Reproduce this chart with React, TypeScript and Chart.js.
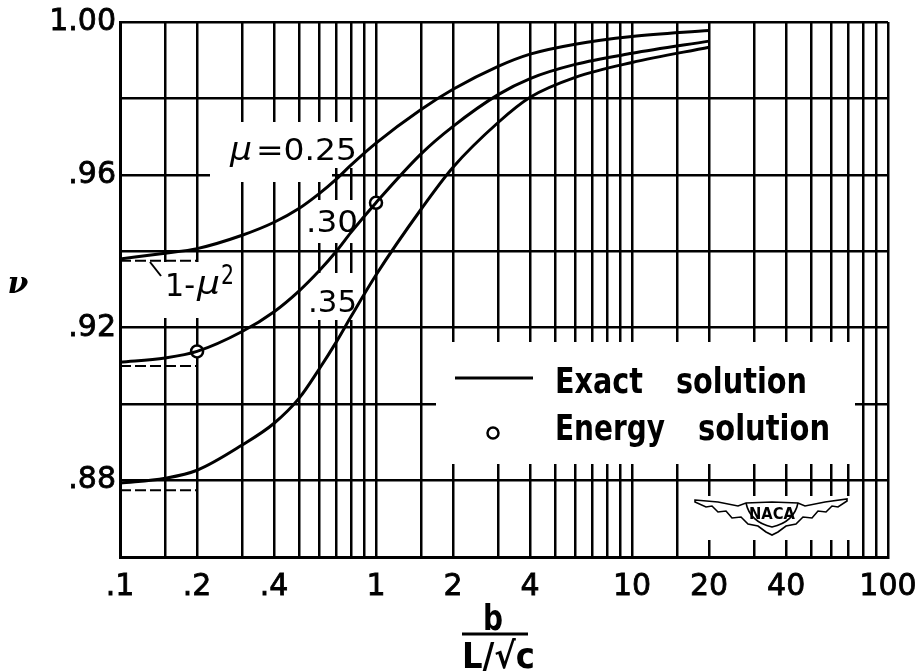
import React, { useEffect, useRef } from 'react';
import { Chart, registerables } from 'chart.js';

Chart.register(...registerables);

const W = 920;
const H = 671;

// b / (L/sqrt c) sample positions along the curves
const X_VALUES = [0.1, 0.15, 0.2, 0.3, 0.4, 0.5, 0.6, 0.7, 0.8, 1, 1.5, 2, 3, 4, 6, 10, 20];
// nu for mu = 0.25, 0.30, 0.35 (exact solution)
const NU_MU_025 = [0.938, 0.9395, 0.9407, 0.9442, 0.9476, 0.9512, 0.9551, 0.9589, 0.9626, 0.9683, 0.9771, 0.9824, 0.9884, 0.9916, 0.9942, 0.9962, 0.9978];
const NU_MU_030 = [0.911, 0.9121, 0.9138, 0.919, 0.9242, 0.9296, 0.9349, 0.94, 0.945, 0.9527, 0.9655, 0.9727, 0.981, 0.9852, 0.9889, 0.9918, 0.995];
const NU_MU_035 = [0.8793, 0.8806, 0.8827, 0.8893, 0.895, 0.9015, 0.9092, 0.9163, 0.923, 0.9338, 0.951, 0.962, 0.9737, 0.9803, 0.9855, 0.9894, 0.9934];

// energy solution points
const ENERGY_X = [0.2, 1];
const ENERGY_NU = [0.9138, 0.9527];

// 1 - mu^2 asymptote markers
const ASYMPTOTE_X = [0.1, 0.2];
const ASYMPTOTE_NU = [0.9375, 0.91, 0.8775];

// axes
const X_MIN = 0.1;
const X_MAX = 100;
const Y_MIN = 0.86;
const Y_MAX = 1.0;
const Y_STEP = 0.02;
const X_TICK_VALUES = [0.1, 0.2, 0.4, 1, 2, 4, 10, 20, 40, 100];
const X_TICK_LABELS = ['.1', '.2', '.4', '1', '2', '4', '10', '20', '40', '100'];
const Y_TICK_VALUES = [0.88, 0.92, 0.96, 1.0];
const Y_TICK_LABELS = ['.88', '.92', '.96', '1.00'];
const GRID_MANTISSAS = [1, 1.5, 2, 3, 4, 5, 6, 7, 8, 9];
const GRID_DECADES = [0.1, 1, 10];

const SANS = "'DejaVu Sans', 'Liberation Sans', sans-serif";
const SERIF = "'DejaVu Serif', 'Liberation Serif', serif";

function fitText(ctx: CanvasRenderingContext2D, text: string, x: number, y: number, width: number, font: string) {
  ctx.save();
  ctx.font = font;
  ctx.textAlign = 'left';
  ctx.textBaseline = 'alphabetic';
  const w = ctx.measureText(text).width;
  ctx.translate(x, y);
  ctx.scale(width / w, 1);
  ctx.fillText(text, 0, 0);
  ctx.restore();
}

const maskPlugin = {
  id: 'maskPlugin',
  beforeDatasetsDraw(chart: any) {
    const ctx = chart.ctx as CanvasRenderingContext2D;
    const rects = [
      [436, 342, 419, 122],
      [695, 496, 160, 44],
      [210, 122, 122, 60],
      [332, 122, 25, 46],
      [310, 200, 48, 43],
      [310, 273, 48, 47],
      [158, 262, 80, 56],
    ];
    ctx.save();
    ctx.fillStyle = '#ffffff';
    rects.forEach(([x, y, w, h]) => ctx.fillRect(x, y, w, h));
    ctx.restore();
  },
};

const annotatePlugin = {
  id: 'annotatePlugin',
  afterDraw(chart: any) {
    const ctx = chart.ctx as CanvasRenderingContext2D;
    ctx.save();
    ctx.fillStyle = '#000';
    ctx.strokeStyle = '#000';

    // curve labels
    fitText(ctx, 'μ', 230, 160, 22, `italic 31px ${SANS}`);
    fitText(ctx, '=0.25', 256, 160, 101, `31px ${SANS}`);
    fitText(ctx, '.30', 306, 232, 52, `31px ${SANS}`);
    fitText(ctx, '.35', 308, 312, 49, `31px ${SANS}`);
    fitText(ctx, '1-', 165, 296, 30, `32px ${SANS}`);
    fitText(ctx, 'μ', 197, 294, 23, `italic 32px ${SANS}`);
    fitText(ctx, '2', 221, 284, 13, `26px ${SANS}`);
    ctx.lineWidth = 2;
    ctx.beginPath();
    ctx.moveTo(150, 262);
    ctx.lineTo(161, 276);
    ctx.stroke();

    // y axis title
    ctx.font = `italic bold 30px ${SERIF}`;
    ctx.textAlign = 'center';
    ctx.textBaseline = 'alphabetic';
    ctx.fillText('ν', 18, 293);

    // x axis title
    fitText(ctx, 'b', 483, 630, 20, `bold 36px ${SANS}`);
    ctx.lineWidth = 3;
    ctx.beginPath();
    ctx.moveTo(462, 634);
    ctx.lineTo(528, 634);
    ctx.stroke();
    fitText(ctx, 'L/√c', 462, 668, 73, `bold 36px ${SANS}`);

    // legend
    ctx.lineWidth = 3;
    ctx.beginPath();
    ctx.moveTo(455, 378);
    ctx.lineTo(533, 378);
    ctx.stroke();
    ctx.beginPath();
    ctx.arc(493, 433, 5.5, 0, Math.PI * 2);
    ctx.fillStyle = '#fff';
    ctx.fill();
    ctx.lineWidth = 2.5;
    ctx.stroke();
    ctx.fillStyle = '#000';
    fitText(ctx, 'Exact', 555, 393, 88, `bold 35px ${SANS}`);
    fitText(ctx, 'solution', 676, 393, 131, `bold 35px ${SANS}`);
    fitText(ctx, 'Energy', 555, 440, 110, `bold 35px ${SANS}`);
    fitText(ctx, 'solution', 698, 440, 132, `bold 35px ${SANS}`);

    // NACA wings logo
    ctx.lineWidth = 1.6;
    ctx.beginPath();
    const top = [[695, 500], [718, 502], [738, 506], [746, 503], [772, 502], [798, 503], [805, 506], [825, 502], [847, 499]];
    const bottom = [[847, 501], [838, 507], [832, 506], [826, 512], [818, 511], [812, 518], [803, 517], [796, 524], [786, 526], [778, 532], [772, 535], [766, 532], [758, 526], [748, 524], [741, 517], [732, 518], [726, 511], [718, 512], [712, 506], [706, 507], [695, 502]];
    top.forEach(([x, y], i) => (i === 0 ? ctx.moveTo(x, y) : ctx.lineTo(x, y)));
    bottom.forEach(([x, y]) => ctx.lineTo(x, y));
    ctx.closePath();
    ctx.stroke();
    ctx.beginPath();
    ctx.moveTo(746, 503);
    ctx.quadraticCurveTo(750, 522, 772, 527);
    ctx.quadraticCurveTo(794, 522, 798, 503);
    ctx.stroke();
    fitText(ctx, 'NACA', 749, 519, 46, `bold 15px ${SANS}`);

    ctx.restore();
  },
};

function pts(xs: number[], ys: number[]) {
  return xs.map((x, i) => ({ x, y: ys[i] }));
}

export default function App() {
  const canvasRef = useRef<HTMLCanvasElement | null>(null);

  useEffect(() => {
    const canvas = canvasRef.current;
    if (!canvas) return;
    const curve = (data: number[]) => ({
      data: pts(X_VALUES, data),
      borderColor: '#000',
      borderWidth: 3,
      pointRadius: 0,
      cubicInterpolationMode: 'monotone' as const,
      fill: false,
    });
    const asym = (v: number) => ({
      data: pts(ASYMPTOTE_X, [v, v]),
      borderColor: '#000',
      borderWidth: 2,
      borderDash: [11, 4],
      pointRadius: 0,
      fill: false,
    });
    const chart = new Chart(canvas, {
      type: 'line',
      data: {
        datasets: [
          curve(NU_MU_025),
          curve(NU_MU_030),
          curve(NU_MU_035),
          ...ASYMPTOTE_NU.map(asym),
          {
            data: pts(ENERGY_X, ENERGY_NU),
            showLine: false,
            pointRadius: 6,
            pointBackgroundColor: '#fff',
            pointBorderColor: '#000',
            pointBorderWidth: 2.5,
            borderColor: '#000',
          } as any,
        ],
      },
      options: {
        responsive: false,
        animation: false,
        devicePixelRatio: 1,
        layout: { padding: { top: 22, right: 32, left: 0, bottom: 0 } },
        plugins: { legend: { display: false }, tooltip: { enabled: false }, title: { display: false } },
        scales: {
          x: {
            type: 'logarithmic',
            min: X_MIN,
            max: X_MAX,
            afterBuildTicks: (scale: any) => {
              const vals: number[] = [];
              GRID_DECADES.forEach((d) => GRID_MANTISSAS.forEach((m) => vals.push(+(d * m).toPrecision(6))));
              vals.push(X_MAX);
              scale.ticks = vals.map((v) => ({ value: v }));
            },
            afterFit: (scale: any) => {
              scale.height = H - 557;
              scale.paddingLeft = 0;
              scale.paddingRight = 0;
            },
            ticks: {
              autoSkip: false,
              maxRotation: 0,
              minRotation: 0,
              padding: 12,
              color: '#000',
              textStrokeColor: '#000',
              textStrokeWidth: 0.8,
              font: { family: SANS, size: 30 },
              callback: (value: any) => {
                const v = Number(value);
                const i = X_TICK_VALUES.findIndex((t) => Math.abs(t - v) / t < 1e-6);
                return i >= 0 ? X_TICK_LABELS[i] : '';
              },
            },
            grid: { color: '#000', lineWidth: 2.5, drawTicks: false },
            border: { display: true, color: '#000', width: 3 },
          },
          y: {
            type: 'linear',
            min: Y_MIN,
            max: Y_MAX,
            ticks: {
              stepSize: Y_STEP,
              padding: 4,
              color: '#000',
              textStrokeColor: '#000',
              textStrokeWidth: 0.8,
              font: { family: SANS, size: 30 },
              callback: (value: any) => {
                const v = Number(value);
                const i = Y_TICK_VALUES.findIndex((t) => Math.abs(t - v) < 1e-6);
                return i >= 0 ? Y_TICK_LABELS[i] : '';
              },
            },
            afterFit: (scale: any) => {
              scale.width = 120;
              scale.paddingTop = 0;
              scale.paddingBottom = 0;
            },
            grid: { color: '#000', lineWidth: 2.5, drawTicks: false },
            border: { display: true, color: '#000', width: 3 },
          },
        },
      },
      plugins: [maskPlugin, annotatePlugin],
    });
    return () => chart.destroy();
  }, []);

  return (
    <div style={{ position: 'absolute', left: 0, top: 0, width: W, height: H, background: '#fff' }}>
      <canvas ref={canvasRef} width={W} height={H} style={{ width: W, height: H, display: 'block' }} />
    </div>
  );
}
